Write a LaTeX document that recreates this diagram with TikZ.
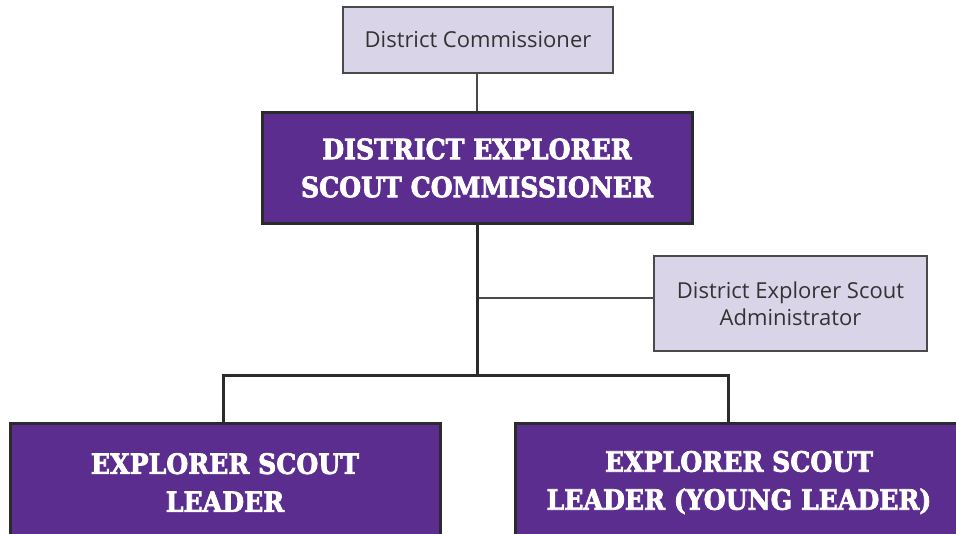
\documentclass[tikz,border=0pt]{standalone}
\usepackage{fontspec}
\setmainfont{Open Sans}
\newfontfamily\slab[FakeStretch=0.9, FakeBold=2.5]{DejaVu Serif}
\usetikzlibrary{calc}
\definecolor{scoutpurple}{HTML}{5B2D8E}
\definecolor{lavender}{HTML}{DAD4E8}
\definecolor{boxgray}{HTML}{4A4A4A}
\definecolor{darkline}{HTML}{2B2B2B}
\definecolor{textgray}{HTML}{333333}
\tikzset{
  lightbox/.style={draw=boxgray, fill=lavender, line width=1.3pt, inner sep=0pt,
    align=center, text=textgray, font=\fontsize{22}{27}\selectfont},
  purplebox/.style={draw=darkline, fill=scoutpurple, line width=3pt, inner sep=0pt,
    align=center, text=white, font=\slab\bfseries\fontsize{28}{38}\selectfont},
  thinline/.style={draw=boxgray, line width=1.3pt},
  thickline/.style={draw=darkline, line width=3pt, line join=miter},
}
\begin{document}
\begin{tikzpicture}[x=1pt,y=-1pt]
\useasboundingbox (0,0) rectangle (956,534);
\clip (0,0) rectangle (956,534);
\fill[white] (0,0) rectangle (956,534);

\node[lightbox, minimum width=270pt, minimum height=66pt] (DC) at (478,40) {District Commissioner};
\node[purplebox, minimum width=430pt, minimum height=111pt] (DESC) at (477,168) {DISTRICT EXPLORER\\SCOUT COMMISSIONER};
\node[lightbox, minimum width=273pt, minimum height=95pt] (ADM) at (790.5,303.5) {District Explorer Scout\\Administrator};
\node[purplebox, minimum width=430pt, minimum height=117pt] (ESL) at (225,482.5) {EXPLORER SCOUT\\LEADER};
\node[purplebox, minimum width=448pt, minimum height=117pt] (ESYL) at (739,482.5) {EXPLORER SCOUT\\LEADER (YOUNG LEADER)};

\coordinate (t) at (477,298);
\coordinate (bus) at (477,376);
\coordinate (bl) at (223,376);
\coordinate (br) at (728,376);

\draw[thinline] (DC.south -| DESC.north) -- (DESC.north);
\draw[thinline] (ADM.west |- t) -- (t);
\draw[thickline] (DESC.south) -- (bus);
\draw[thickline] (bl |- ESL.north) -- (bl) -- (br) -- (br |- ESYL.north);
\end{tikzpicture}
\end{document}
